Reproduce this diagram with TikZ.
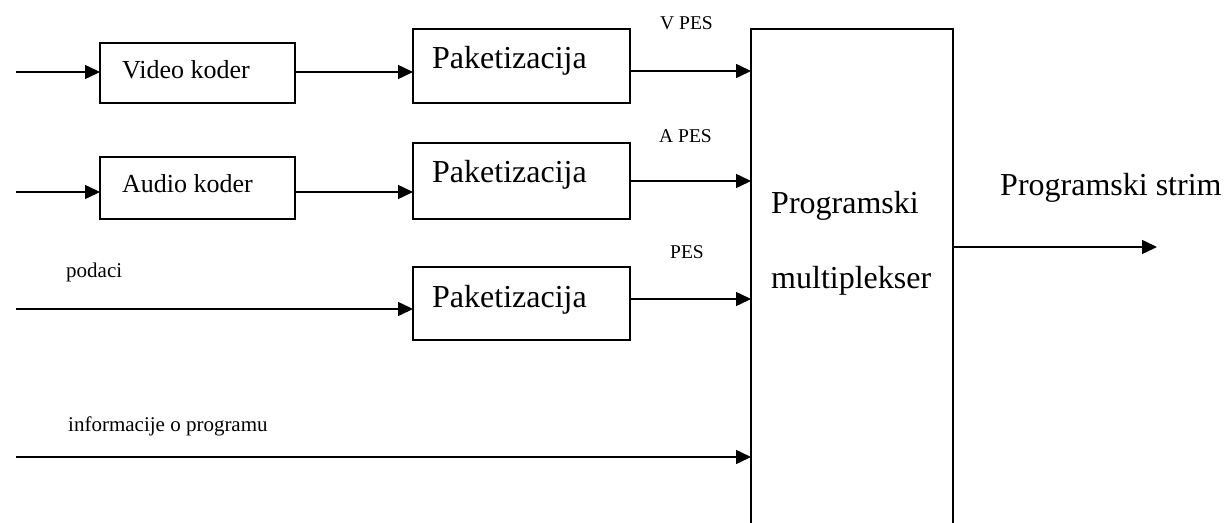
\documentclass[tikz,border=0pt]{standalone}
\usepackage{fontspec}
\setmainfont{Liberation Serif}
\usetikzlibrary{arrows.meta}
\begin{document}
\begin{tikzpicture}[x=1pt,y=-1pt,
  blk/.style={draw, line width=1.5pt, inner sep=0pt, outer sep=0pt},
  arr/.style={line width=1.5pt, -{Triangle[length=15pt,width=14pt]}},
  txt/.style={anchor=base west, inner sep=0pt},
  big/.style={txt, font=\fontsize{32}{36}\selectfont},
  mid/.style={txt, font=\fontsize{26}{30}\selectfont},
  sml/.style={txt, font=\fontsize{21}{24}\selectfont},
  pes/.style={txt, font=\fontsize{19.5}{22}\selectfont}]
  \clip (0,0) rectangle (1228,522);
  \fill[white] (0,0) rectangle (1228,522);

  % coder and packetizer blocks
  \node[blk, minimum width=195pt, minimum height=60pt] (vk) at (197.5,73) {};
  \node[blk, minimum width=195pt, minimum height=62pt] (ak) at (197.5,188) {};
  \node[blk, minimum width=217pt, minimum height=74pt] (pk1) at (521.5,66) {};
  \node[blk, minimum width=217pt, minimum height=76pt] (pk2) at (521.5,181) {};
  \node[blk, minimum width=217pt, minimum height=73pt] (pk3) at (521.5,303.5) {};
  % multiplexer (runs past the lower edge)
  \node[blk, minimum width=202pt, minimum height=520pt] (mux) at (852,289) {};

  % block texts
  \node[mid] (tvk) at (122,78) {Video koder};
  \node[mid] (tak) at (122,192) {Audio koder};
  \node[big] (tp1) at (432,68) {Paketizacija};
  \node[big] (tp2) at (432,182) {Paketizacija};
  \node[big] (tp3) at (432,307) {Paketizacija};
  \node[big] (tm1) at (771,213) {Programski};
  \node[big] (tm2) at (771,288) {multiplekser};

  % signal labels
  \node[pes] (lv) at (660,29) {V PES};
  \node[pes] (la) at (659,142) {A PES};
  \node[pes] (lp) at (670,258) {PES};
  \node[sml] (lpod) at (66,277) {podaci};
  \node[sml] (linf) at (68,431) {informacije o programu};
  \node[big] (lout) at (1000,195) {Programski strim};

  % input line start points and output end point
  \coordinate (s1) at (16,72);
  \coordinate (s2) at (16,192);
  \coordinate (s3) at (16,309);
  \coordinate (s4) at (16,457);
  \coordinate (y1) at (0,71);
  \coordinate (y2) at (0,181);
  \coordinate (y3) at (0,299);
  \coordinate (yo) at (0,247);
  \coordinate (out) at (1157,247);

  % connectors
  \draw[arr] (s1) -- (s1 -| vk.west);
  \draw[arr] (s2) -- (s2 -| ak.west);
  \draw[arr] (s1 -| vk.east) -- (s1 -| pk1.west);
  \draw[arr] (s2 -| ak.east) -- (s2 -| pk2.west);
  \draw[arr] (s3) -- (s3 -| pk3.west);
  \draw[arr] (y1 -| pk1.east) -- (y1 -| mux.west);
  \draw[arr] (y2 -| pk2.east) -- (y2 -| mux.west);
  \draw[arr] (y3 -| pk3.east) -- (y3 -| mux.west);
  \draw[arr] (s4) -- (s4 -| mux.west);
  \draw[arr] (yo -| mux.east) -- (out);
\end{tikzpicture}
\end{document}
